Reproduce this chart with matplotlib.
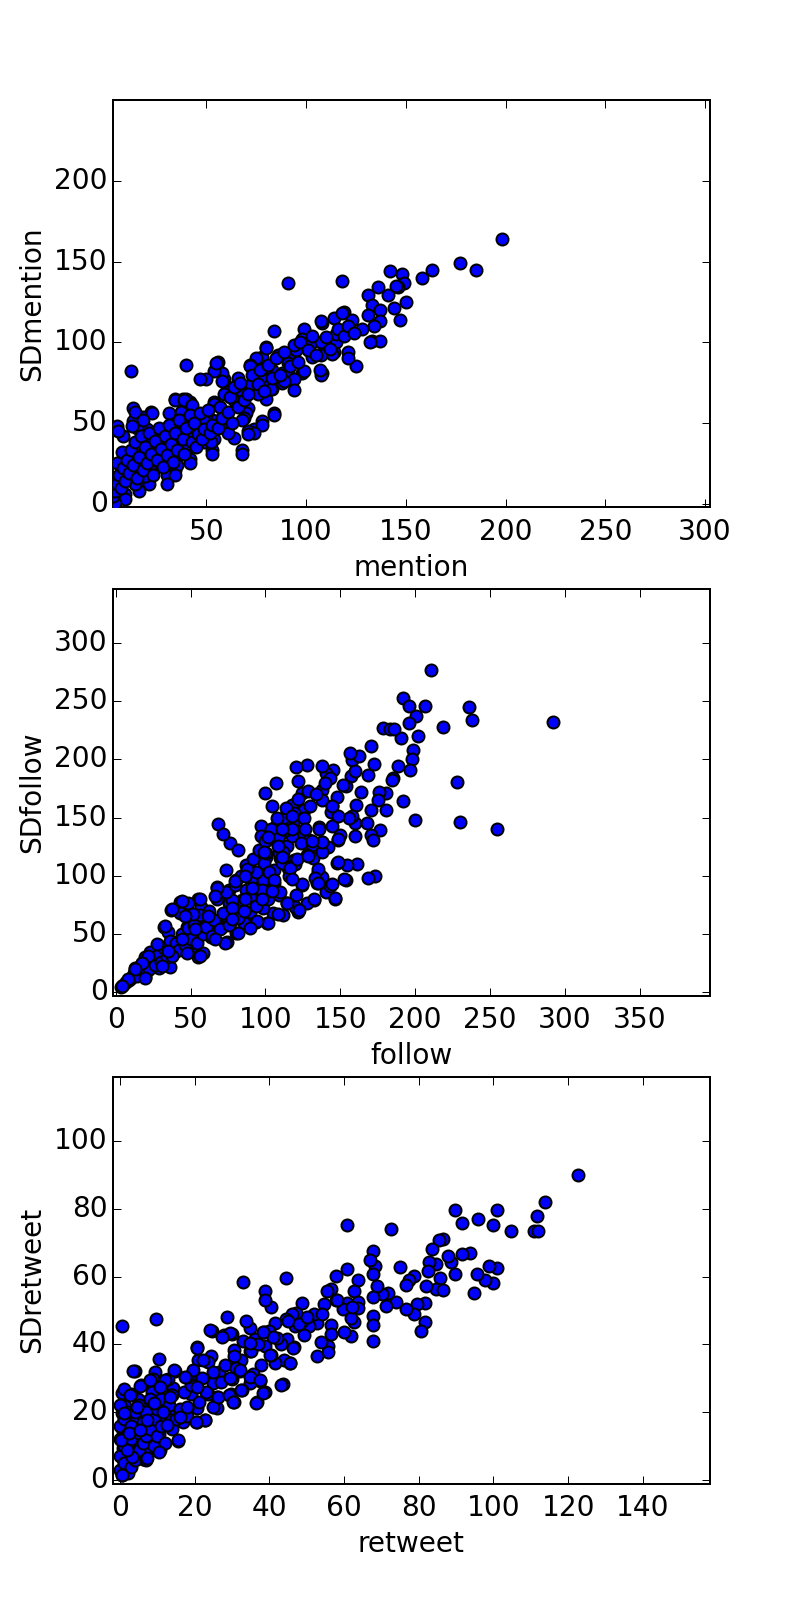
import numpy as np
import matplotlib
matplotlib.use("Agg")
import matplotlib.pyplot as plt

plt.style.use("classic")
plt.rcParams["font.family"] = ["DejaVu Sans"]

# ---------------- data ----------------
mention_points = [
    (198,164),(177,149),(185,145),(163,145),(158,140),(142,144),(148,142),(149,137),(146,134),(145,135),
    (136,134),(131,129),(141,129),(133,123),(144,121),(150,125),(137,120),(147,114),(131,117),(137,113),
    (134,110),(133,101),(137,101),(91,137),(118,138),(108,112),(114,115),(119,119),(123,114),(128,108),
    (125,85),(121,94),(121,90),(114,94),(109,98),(108,81),(103,91),(99,108),(101,100),(98,102),
    (94,94),(91,90),(88,93),(84,107),(80,97),(78,91),(75,90),(72,86),(83,83),(88,81),
    (91,81),(98,81),(94,77),(88,75),(83,71),(78,75),(74,72),(68,69),(65,73),(59,77),
    (58,81),(56,88),(54,82),(50,77),(47,77),(40,86),(60,69),(65,63),(71,59),(70,56),
    (84,56),(80,65),(78,51),(74,46),(71,45),(69,53),(68,33),(64,41),(60,46),(59,57),
    (54,63),(55,51),(53,52),(50,55),(47,51),(54,40),(53,33),(49,38),(43,36),(42,63),
    (40,65),(38,65),(34,65),(37,57),(31,56),(41,53),(38,49),(42,45),(45,47),(37,37),
    (36,32),(34,21),(42,28),(30,47),(27,36),(27,30),(27,24),(22,57),(18,54),(20,46),
    (22,36),(22,20),(20,16),(17,30),(13,59),(12,82),(13,51),(15,47),(8,42),(7.5,32),
    (5,48),(5,25),(9.5,24),(13,26),(11,20),(15,17),(9,6),(6,4),(4,1.6),(7,14),
    (3.5,14),(4,10),(16,12),(21,22),(25,27),(32,28),(30,18),(35,24),(36.5,42.5),(32,40.5),
    (25,45),(22,41.5),(55,87),(107.5,113),(118,118),(80,96.5),(72,85),(66,78),(58,76),(59,68),
    (34,64),(39,64),(43,61),(14,57),(22.5,56),(18,52),(5.5,45),(12.5,48),(54,62),(68,52),
    (84,55),(78,48.5),(74,44),(71,43),(68,31),(53,31),(42,25),(34,18),(30,12),(21,12),
    (16,8),(9,3),(4,0.5),(94,70.5),(107.5,80),(113,93),(99,82),(91,87),(86,92),(95,95),
    (102.5,99.6),(89,76),(82.5,71),(76,68),(72.5,74),(77.5,78.5),(64,64),(59,55),(49,51),(46,45),
    (37.5,43),(29,38),(26,34),(21,29),(17,24),(11,21.5),(7.5,15),(35,30),(41,36),(52.5,38),
    (61,44),(19,17),(14,12),(115,100),(107.5,92),(107.5,100),(115,105),(106.7,83),(132,100),
    (3,5),(4,8),(5,12),(6,18),(7,10),(8,22),(9,14),(10,27),(11,19),(12,33),
    (13,24),(14,38),(15,16),(16,29),(17,42),(18,21),(19,35),(20,25),(21,44),(22,31),
    (23,18),(24,39),(25,27),(26,47),(27,34),(28,23),(29,42),(30,30),(31,49),(32,37),
    (33,26),(34,44),(35,33),(36,52),(38,40),(39,31),(40,47),(42,55),(43,38),(44,50),
    (45,35),(46,43),(47,56),(48,40),(49,46),(51,58),(52,44),(53,49),(56,47),(57,60),
    (58,53),(61,57),(62,66),(63,50),(64,72),(66,60),(67,75),(69,64),(71,68),(73,80),
    (76,74),(77,83),(79,70),(81,86),(83,78),(85,90),(87,80),(89,94),(92,85),(94,98),
    (96,88),(97,100),(101,95),(103,104),(105,92),(110,103),(112,96),(116,108),(119,104),(121,110),
    (124,106),
]

follow_points = [
    (210.8,277.3),(292.2,231.9),(235.8,244.8),(237.8,233.6),(227.7,180.3),(229.7,145.8),(254.7,140.1),(199.7,148.1),(191.9,164.5),(218.9,227.6),
    (206.8,245.7),(191.9,252.9),(195.9,246.3),(200.3,237.1),(195.9,231.3),(202,219.9),(190.9,218.1),(178.4,226.7),(183.4,226.2),(185.8,226.2),
    (198.6,208.4),(198,200.3),(196.6,191.1),(188.5,194),(185.1,184),(184.5,182),(180.4,171.1),(175.7,171.6),(175,165.3),(180.4,156.7),
    (170.3,156.7),(176.7,139.5),(170.3,135.2),(172,130.9),(173.4,99.9),(168.4,97.9),(161.5,110.2),(154.7,109.4),(148,110.8),(154,96.4),
    (170.3,211.2),(168.6,186.8),(172.3,196.3),(158.1,199.8),(162.2,202.6),(156.4,205.5),(157.1,186),(154,177.4),(160.8,161),(159.8,145.2),
    (158.1,151),(159.8,133.8),(148,151),(148.6,130.3),(144.6,142.4),(145.3,191.2),(140.5,188.3),(137.8,194),(143,184),(144.2,159.6),
    (137.8,173.9),(137.8,165.3),(136.1,141.8),(127.7,195.5),(120.3,193.2),(121.6,181.1),(124.3,171.1),(128.4,173.1),(126,156.7),(117.6,161),
    (111.5,149.5),(119.3,153.8),(118.2,145.2),(104.1,159.6),(107.4,179.7),(100,171.1),(106.8,142.4),(109.1,133.8),(97.3,142.4),(97.3,133.8),
    (101.4,130.9),(124.3,133.8),(129.4,130.9),(131.1,126.6),(137.8,129.4),(127.7,118),(118.9,113.7),(115.2,106.5),(109.8,115.1),(100.3,116.5),
    (98.9,110.8),(100.3,119.4),(98.6,96.4),(105.7,93.6),(109.1,83.5),(97.3,86.4),(124.3,92.1),(120.3,83.5),(111.5,66.3),(121.6,69.2),
    (101.4,59.1),(132.8,79.2),(134.5,93.6),(135.1,103.6),(137.8,99.3),(140.5,86.4),(143.2,91.3),(146.6,79.8),(93.9,76.3),(90.5,62),
    (80.4,50.5),(87.2,87.8),(84.5,79.2),(80.4,96.4),(87.2,109.4),(76.4,128),(81.4,122.3),(73.6,105.1),(68.2,144.1),(71.6,136),
    (67.6,90.7),(76,76.3),(77.7,62),(70.9,56.3),(74.3,42.8),(62.8,64.9),(56.8,53.4),(55.1,79.8),(48.3,76.3),(43.2,77.8),
    (43.2,67.7),(37.2,70.6),(32.4,56.3),(34.8,52),(43.2,44.8),(50,39),(47.3,34.7),(55.1,30.4),(58.4,33.3),(63.5,47.6),
    (66.9,59.1),(36.5,36.2),(36.5,21.8),(29.7,33.3),(28,40.5),(23,27.6),(19.6,30.4),(17.9,25.3),(12.8,20.4),(19.6,13.2),
    (8.8,10.3),(3.7,4.6),(29,20.4),(21.3,18.9),(23,34.7),(53.4,64.9),(56.8,73.5),(60.1,59.1),(47.3,56.3),(74.3,64.9),
    (85.5,59.1),(93.9,60.6),(105.4,67.7),(98.6,72),(114.2,76.3),(127.7,76.3),(119.6,73.5),(89.9,69.2),(76,87.8),(77.7,79.2),
    (90.5,96.4),(93.9,103.6),(105.7,105),(110.8,110.8),(102.4,103.6),(114.2,125.2),(109.1,119.4),(117.6,133.8),(113.5,139.5),
    (5,6),(7,9),(10,12),(12,16),(14,14),(16,22),(18,19),(20,24),(22,20),(24,28),
    (26,23),(28,32),(30,26),(32,38),(34,30),(36,44),(38,33),(40,42),(42,36),(44,50),
    (46,40),(48,55),(50,46),(52,58),(54,42),(56,66),(58,50),(60,56),(62,70),(64,48),
    (66,62),(68,80),(70,54),(72,68),(74,86),(76,58),(78,72),(80,92),(82,64),(84,100),
    (86,70),(88,106),(90,82),(92,114),(94,74),(96,122),(98,88),(100,130),(102,80),(104,140),
    (106,96),(108,150),(110,86),(112,120),(114,158),(116,100),(118,140),(120,110),(122,166),(124,128),
    (126,150),(130,160),(132,115),(134,170),(136,140),(140,180),(142,125),(144,155),(148,168),(150,135),
    (152,178),(156,150),(160,190),(164,172),(168,145),
    (102,133.7),(108.7,125.6),(99.3,120),(111,115.7),(116.5,107),(121,114.2),(128.7,117),(137.7,120),(135.4,105.6),(133.2,98.4),
    (135.4,94.1),(144.4,92.7),(146.6,81.2),(132.6,79.8),(124.3,92.7),(122.7,70.3),(114.3,76.9),(108.7,67.5),(102,59.7),(94.3,61.1),
    (89.8,54.8),(82,51.1),(73.1,42.5),(66.4,45.4),(56.4,31),(47.5,33.9),(37.4,31),(33,56.8),(37.4,71.2),(44.1,78.3),
    (56.4,79.8),(67.5,89.8),(66.4,82.6),(79.7,95.5),(86.4,99.8),(90.9,89.8),(97.6,79.8),(104.3,86.9),(86.4,79.8),(77.5,62.6),
    (61.9,65.4),(51.9,66.9),(46.3,65.4),(53,54),(44.1,45.4),(27.4,41),(35.2,35.3),(30.7,22.4),(21.8,31),(17.4,25.3),
    (12.9,19.5),(19.6,12.4),(8.4,10.9),(4,5.2),(117.6,97),(126.5,140),(137.7,128.6),(148.8,131.4),(148.8,151.5),(144.4,160),
    (117.6,151.5),(111,140),(131,130),(148.8,111.4),(152.8,97),
]

retweet_points = [
    (122.7,90),(113.7,81.9),(111.7,78),(110.9,73.5),(112,73.3),(104.7,73.4),(100.9,79.7),(99.8,75.3),(95.8,77.1),(91.7,75.9),
    (89.7,79.7),(93.7,67.1),(91.7,66.6),(100.9,62.5),(98.7,63),(99.8,58.1),(97.8,58.9),(95.5,60.9),(94.7,55.2),(89.7,60.7),
    (88.7,64.3),(87.7,66),(86.6,71.1),(85.3,70.7),(83.6,68.2),(84.7,63.7),(82.7,64.4),(82.5,61.7),(85.8,59.6),(84.6,56.3),
    (86.6,56),(82,57.3),(81.6,52.1),(81.6,46.7),(80.7,44.1),(79.6,51.9),(78.6,49.1),(76.6,50.5),(78.6,60.1),(77.5,58.9),
    (76.6,57.5),(74.9,62.7),(73.8,52.6),(72.6,73.9),(71.8,55.2),(71.2,51.4),(70.1,54.9),(68.8,57.3),(68.2,63),(67.7,67.6),
    (66.8,64.9),(67.7,60.7),(67.7,54),(67.7,48.4),(67.7,45.8),(67.7,40.9),(60.7,75.2),(60.7,62.3),(57.7,60.2),(63.7,58.9),
    (62.7,55.7),(63.7,52.5),(63.7,50.6),(60.7,52.1),(59.8,50.5),(57.7,53.1),(62.7,46.7),(61.8,47.9),(61.8,42.4),(59.9,43.8),
    (56.6,56.3),(55.4,55.7),(54.6,51.9),(56.6,45.8),(56.6,43.2),(55.7,39.6),(55.7,37.9),(53.9,40.8),(52.6,36.7),(52.6,46.4),
    (51.9,49),(50.6,45.3),(49.2,42.7),(48.6,52.1),(48.6,46.9),(47.2,49.2),(45.9,49),(46.8,45.3),(44.5,59.7),(44.5,47.4),
    (46.5,39.1),(45.6,34.4),(44.8,41.7),(43.8,35.4),(43.6,28.3),(43.2,40.1),(41.5,46.4),(41.5,34.4),(40.5,51),(38.8,55.7),
    (38.8,53.1),(38.4,43.8),(38.8,39.6),(40.5,37),(37.8,33.9),(38.8,26),(36.7,22.9),(37.5,29.2),(36.1,41.7),(34.8,44.8),
    (33.7,46.9),(34.7,38),(35.7,31.3),(34.8,28.6),(32.8,58.5),(32.9,41.1),(32.4,35.4),(32.1,32.3),(32.6,26.6),(30.5,38.5),
    (30.5,36.7),(30.5,22.9),(29.9,43.2),(29.9,29.7),(29.7,25.5),(28.7,48.2),(27.7,42.7),(26.6,31.8),(25.9,24.5),(25.9,21.4),
    (24.9,28.6),(24.7,44),(24.3,36.5),(23.6,25.5),(23.6,34.9),(22.6,17.7),(20.9,35.4),(20.6,39.1),(20.5,17.2),(20.5,21.4),
    (20,28.1),(18.9,25.5),(18.6,30.7),(17.8,21.4),(16.7,17.2),(15.6,11.5),(14.8,32.3),(14.2,27.1),(13.5,25),(12.8,29.7),
    (12.8,19.8),(12.4,16.7),(11.5,20.8),(10.5,35.6),(9.6,47.4),(9.4,31.8),(8.8,29.7),(10.5,27.1),(10.5,13.5),(10.8,8.9),
    (8.5,26),(7.6,9.4),(6.7,22.9),(5.7,28.1),(4,32.3),(3.4,32.3),(4.7,24),(3.8,14.6),(3,25.5),(2.4,9.9),
    (0.4,25.8),(0.5,45.3),(0.5,19.8),(1.3,13.5),(1.6,4.2),(0.5,1.6),(2,6.3),(3,8.3),(4.7,11.5),(5.7,18.2),
    (8.1,19.8),(6.1,6.3),(8.1,11.5),(0.7,9.4),(0.7,6.3),(0.7,14.6),(1.1,17.7),(1.3,21.9),(3.4,17.7),
    (0,3),(0,7),(0,12),(0,16),(0,22),(1,5),(1,10),(1,18),(1,27),(2,2),
    (2,14),(2,20),(3,4),(3,12),(3,16),(4,6),(4,20),(5,9),(5,14),(5,22),
    (6,11),(6,17),(7,6),(7,13),(7,20),(8,15),(8,24),(9,10),(9,18),(10,13),
    (10,21),(11,16),(11,24),(12,11),(12,19),(13,22),(14,15),(14,25),(15,18),(16,21),
    (17,26),(18,19),(19,28),(21,23),(22,30),(23,26),(25,32),(27,29),(28,34),(31,33),
    (35,38),(37,40),(40,44),(42,42),(45,47),(48,46),(50,48),(54,49),(58,53),(62,51),
    (5.4,27.8),(2.7,25.1),(8.1,29.5),(12.1,29.5),(14.3,32.5),(17.8,30.5),(19.6,32.5),(13.4,24.6),(10.7,27.5),(9,22.7),
    (4.5,21.7),(1,19.7),(7.2,17.7),(11.6,20.2),(16.1,18.7),(12.5,16.3),(15.6,11.8),(10.3,8.4),(7.2,6.4),(3.2,6.9),
    (0.5,1.5),(1.8,8.9),(0.1,11.8),(2.3,13.8),(5.4,14.8),(17.8,21.7),(20.5,27.5),(22.3,35.4),(20.5,38.9),(17.4,30.5),
    (25,21.7),(22.7,17.7),(20.3,17.2),(26.3,24.6),(29.2,25.1),(29.4,30),(32.1,32.5),(34.7,30.5),(37.4,29.5),(38.3,25.6),
    (36.3,22.7),(30.3,23.1),(32.5,26.6),(43.2,28.1),(34.7,40.3),(40.1,36.9),(45.4,34.4),(46.3,38.9),(41,42.3),(38.3,43.8),
    (29.4,43.3),(27.2,42.3),(24.1,44.3),
]

x_labels = ["mention", "follow", "retweet"]
y_labels = ["SDmention", "SDfollow", "SDretweet"]
x_limits = [(3, 302.5), (-2, 397), (-2, 158)]
y_limits = [(-2, 250), (-3, 347), (-1, 119)]
x_ticks = [[50, 100, 150, 200, 250, 300],
           [0, 50, 100, 150, 200, 250, 300, 350],
           [0, 20, 40, 60, 80, 100, 120, 140]]
y_ticks = [[0, 50, 100, 150, 200],
           [0, 50, 100, 150, 200, 250, 300],
           [0, 20, 40, 60, 80, 100]]

# ---------------- figure ----------------
DPI = 144
FS = 14
fig = plt.figure(figsize=(789 / DPI, 1614 / DPI), dpi=DPI, facecolor="white")

left = 112.7 / 789
width = (710 - 112.7) / 789
height = 407 / 1614
tops_px = [100, 588.5, 1076.5]

datasets = [mention_points, follow_points, retweet_points]
for i, pts in enumerate(datasets):
    arr = np.array(pts, dtype=float)
    bottom = 1 - (tops_px[i] + 407) / 1614
    ax = fig.add_axes([left, bottom, width, height])
    ax.scatter(arr[:, 0], arr[:, 1], s=36, c="b", edgecolors="k", linewidths=1.0, zorder=3)
    ax.set_xlim(*x_limits[i])
    ax.set_ylim(*y_limits[i])
    ax.set_xticks(x_ticks[i])
    ax.set_yticks(y_ticks[i])
    ax.set_xlabel(x_labels[i], fontsize=FS, labelpad=4)
    ax.set_ylabel(y_labels[i], fontsize=FS, labelpad=4)
    ax.tick_params(axis="both", labelsize=FS)
    ax.tick_params(axis="x", pad=5.5)
    ax.tick_params(axis="y", pad=2.5)

fig.savefig("out.png", dpi=DPI, facecolor="white")
